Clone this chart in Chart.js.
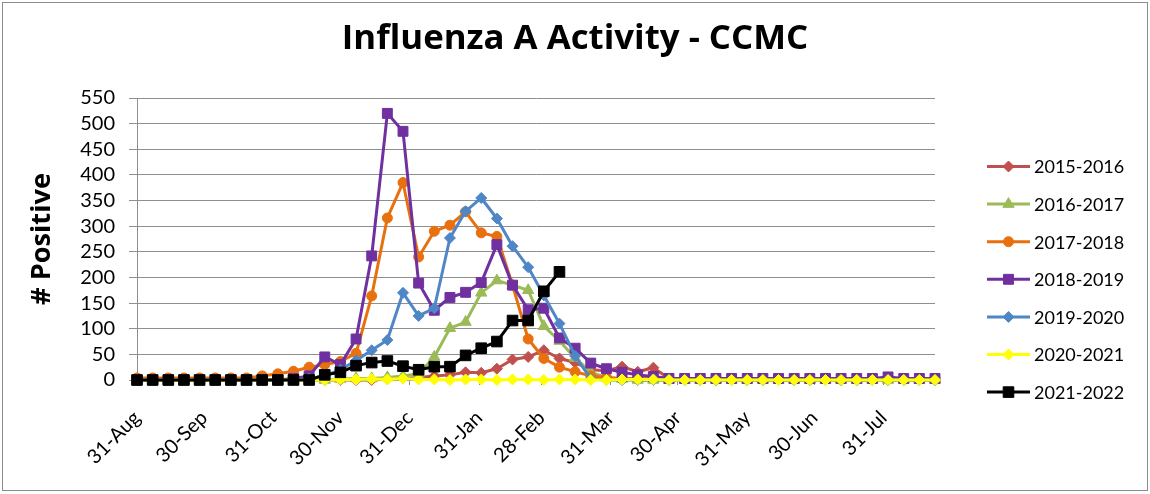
<!DOCTYPE html>
<html>
<head>
<meta charset="utf-8">
<script src="https://cdn.jsdelivr.net/npm/chart.js@4.4.1/dist/chart.umd.min.js"></script>
<style>
  html, body { margin: 0; padding: 0; background: #fff; }
  #wrap { position: relative; width: 1150px; height: 494px; overflow: hidden; }
  #c { position: absolute; left: 0; top: 0; }
  #frame { position: absolute; left: 2px; top: 2px; width: 1144px; height: 487px; border: 1px solid #8c8c8c; pointer-events: none; }
</style>
</head>
<body>
<div id="wrap"><canvas id="c" width="1150" height="494"></canvas><div id="frame"></div></div>
<script>
// ---- data (weekly counts, first week = 31-Aug) ----
const chartTitle = 'Influenza A Activity - CCMC';
const yAxisTitle = '# Positive';
const seasonLabels = ['2015-2016', '2016-2017', '2017-2018', '2018-2019', '2019-2020', '2020-2021', '2021-2022'];

const s2015_2016 = [0,0,0,0,0,0,0,0,0,0,0,0,0,0,0,0, 2,3,5,8,10,15,14,22,40,45,58,42,34,20,18,26,16,24,3, 0,0,0,0,0,0,0,0,0,0,0,0,0,0,0,0,0];
const s2016_2017 = [0,0,0,0,0,0,0,0,0,0,0,0,0, 2,3,3,5,8,12,45,101,113,170,194,185,175,105,76,43,15,5,2, 0,0,0,0,0,0,0,0,0,0,0,0,0,0,0,0,0,0,0,0];
const s2017_2018 = [4,4,4,4,4,4,4,4, 8,12,17,25,30,36,52,164,316,385,240,290,302,328,287,280,185,80,42,25,16,8,5, 3,3,3,3,3,3,3,3,3,3,3,3,3,3,3,3,3,3,3,3,3];
const s2018_2019 = [0,0,0,0,0,0,0,0,0,0, 3,8,45,30,80,242,520,485,189,136,161,171,190,264,185,137,140,82,62,33,22,15,10,7, 3,3,3,3,3,3,3,3,3,3,3,3,3,3, 6, 3,3,3];
const s2019_2020 = [0,0,0,0,0,0,0,0,0,0,0, 3,8,20,38,58,78,170,125,140,277,329,355,315,261,220,165,110,47,2, 0,0,0,0,0,0,0,0,0,0,0,0,0,0,0,0,0,0,0,0,0,0];
const s2020_2021 = [0,0,0,0,0,0,0,0,0,0,0,0, 0,1,1,2,1,3,1,1,0,1, 1,0,1,1,0,1,1,0,0,1, 1,1,0,0,0,0,0,0,0,0, 0,0,0,0,0,0,0,0,0,0];
const s2021_2022 = [0,0,0,0,0,0,0,0,0,0,0,0, 10,15,28,34,37,27,20,26,26,48,62,75,116,116,173,211];

const xTickDays   = [0, 30, 61, 91, 122, 153, 181, 212, 242, 273, 303, 334];
const xTickLabels = ['31-Aug','30-Sep','31-Oct','30-Nov','31-Dec','31-Jan','28-Feb','31-Mar','30-Apr','31-May','30-Jun','31-Jul'];
const DAYS_PER_WEEK = 7;
const WEEKS = 52;
const Y_MIN = 0, Y_MAX = 550, Y_STEP = 50;

// ---- styles ----
const seriesValues = [s2015_2016, s2016_2017, s2017_2018, s2018_2019, s2019_2020, s2020_2021, s2021_2022];
const seriesColors = ['#C0504D', '#9BBB59', '#E8700E', '#7030A0', '#4F86C6', '#FFFF00', '#000000'];
const seriesMarkers = ['rectRot', 'triangle', 'circle', 'rect', 'rectRot', 'rectRot', 'rect'];
const markerRadius = [5.5, 6.5, 5, 7, 5.5, 5.5, 7.5];
const GRID = '#8f8f8f';
const FONT = 'Lato, "Open Sans", sans-serif';
const BOLD_FONT = '"Open Sans", Lato, sans-serif';

function toPoints(vals) { return vals.map((v, i) => ({ x: i * DAYS_PER_WEEK, y: v })); }

const datasets = seriesValues.map((vals, i) => ({
  label: seasonLabels[i],
  data: toPoints(vals),
  borderColor: seriesColors[i],
  backgroundColor: seriesColors[i],
  pointBackgroundColor: seriesColors[i],
  pointBorderColor: seriesColors[i],
  pointStyle: seriesMarkers[i],
  pointRadius: markerRadius[i],
  pointHoverRadius: markerRadius[i],
  pointBorderWidth: 1,
  borderWidth: 3,
  borderJoinStyle: 'round',
  tension: 0,
  fill: false,
  clip: false,
  order: seriesValues.length - i
}));

function drawMarker(ctx, style, r, x, y) {
  ctx.beginPath();
  if (style === 'circle') {
    ctx.arc(x, y, r, 0, Math.PI * 2);
  } else if (style === 'rect') {
    const s = r * Math.SQRT1_2;
    ctx.rect(x - s, y - s, 2 * s, 2 * s);
  } else if (style === 'rectRot') {
    ctx.moveTo(x, y - r); ctx.lineTo(x + r, y); ctx.lineTo(x, y + r); ctx.lineTo(x - r, y); ctx.closePath();
  } else if (style === 'triangle') {
    ctx.moveTo(x, y - r);
    ctx.lineTo(x + Math.sin(2 * Math.PI / 3) * r, y - Math.cos(2 * Math.PI / 3) * r);
    ctx.lineTo(x + Math.sin(4 * Math.PI / 3) * r, y - Math.cos(4 * Math.PI / 3) * r);
    ctx.closePath();
  }
  ctx.fill();
  ctx.stroke();
}

// fit a bold font size so the text spans the target width seen in the original
function fitSize(text, target, base) {
  const m = document.createElement('canvas').getContext('2d');
  m.font = 'bold ' + base + 'px ' + BOLD_FONT;
  const w = m.measureText(text).width;
  return Math.max(10, Math.min(60, base * target / w));
}

function build() {
  const titleSize = fitSize(chartTitle, 467, 30);
  const yTitleSize = fitSize(yAxisTitle, 132, 24);

  const decorPlugin = {
    id: 'decor',
    afterDraw(chart) {
      const ctx = chart.ctx;
      ctx.save();
      ctx.fillStyle = '#000';
      ctx.font = 'bold ' + titleSize.toFixed(1) + 'px ' + BOLD_FONT;
      ctx.textAlign = 'center';
      ctx.textBaseline = 'alphabetic';
      ctx.fillText(chartTitle, 575, 49);
      const y0 = 166.5, dy = 37.6;
      chart.data.datasets.forEach((ds, i) => {
        const y = y0 + i * dy;
        ctx.strokeStyle = ds.borderColor;
        ctx.lineWidth = 3;
        ctx.beginPath(); ctx.moveTo(987, y); ctx.lineTo(1030, y); ctx.stroke();
        ctx.fillStyle = ds.pointBackgroundColor;
        ctx.strokeStyle = ds.pointBorderColor;
        ctx.lineWidth = 1;
        drawMarker(ctx, ds.pointStyle, ds.pointRadius, 1008.5, y);
        ctx.fillStyle = '#000';
        ctx.font = '18px ' + FONT;
        ctx.textAlign = 'left';
        ctx.textBaseline = 'middle';
        ctx.fillText(ds.label, 1034, y + 1);
      });
      ctx.restore();
    }
  };

  new Chart(document.getElementById('c'), {
    type: 'line',
    data: { datasets },
    plugins: [decorPlugin],
    options: {
      responsive: false,
      animation: false,
      layout: { padding: { top: 98, right: 215, bottom: 0, left: 0 } },
      plugins: { legend: { display: false }, title: { display: false }, tooltip: { enabled: false } },
      scales: {
        x: {
          type: 'linear',
          min: 0,
          max: (WEEKS - 1) * DAYS_PER_WEEK,
          afterBuildTicks: (scale) => { scale.ticks = xTickDays.map(v => ({ value: v })); },
          afterFit: (scale) => { scale.height = 114; },
          ticks: {
            autoSkip: false, maxRotation: 45, minRotation: 45, padding: 21,
            font: { family: FONT, size: 20 }, color: '#000',
            callback: (v) => xTickLabels[xTickDays.indexOf(v)]
          },
          grid: { drawOnChartArea: false, drawTicks: true, tickLength: 5, color: GRID },
          border: { display: true, color: GRID, width: 1 }
        },
        y: {
          min: Y_MIN, max: Y_MAX,
          afterFit: (scale) => { scale.width = 137; },
          ticks: { stepSize: Y_STEP, autoSkip: false, padding: 14, font: { family: FONT, size: 20 }, color: '#000' },
          grid: { color: GRID, lineWidth: 1, drawTicks: true, tickLength: 8 },
          border: { display: true, color: GRID, width: 1 },
          title: { display: true, text: yAxisTitle, color: '#000', font: { family: BOLD_FONT, size: yTitleSize, weight: 'bold', lineHeight: 1.2 }, padding: { top: 42 - yTitleSize * 0.6, bottom: 0 } }
        }
      }
    }
  });
}

const fontLoads = document.fonts ? Promise.all([
  document.fonts.load('20px Lato'), document.fonts.load('bold 30px "Open Sans"')
]) : Promise.resolve();
fontLoads.then(build, build);
</script>
</body>
</html>
